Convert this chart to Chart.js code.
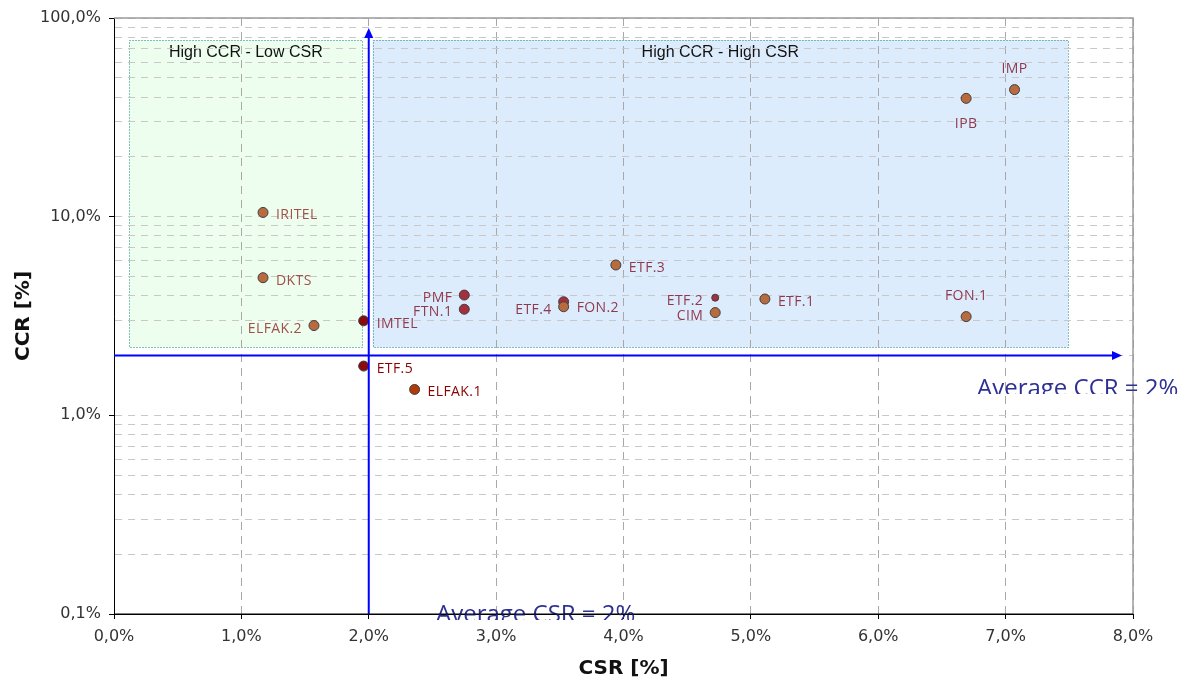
<!DOCTYPE html>
<html>
<head>
<meta charset="utf-8">
<script src="https://cdn.jsdelivr.net/npm/chart.js@4.4.0/dist/chart.umd.min.js"></script>
<style>
  html, body { margin: 0; padding: 0; background: #fff; }
  #wrap { width: 1181px; height: 681px; }
</style>
</head>
<body>
<div id="wrap"><canvas id="matrixChart" width="1181" height="681"></canvas></div>
<script>
// data (CSR and CCR in %)
const units = ['IRITEL', 'DKTS', 'ELFAK.2', 'IMTEL', 'ETF.5', 'ELFAK.1', 'PMF', 'FTN.1',
               'ETF.4', 'FON.2', 'ETF.3', 'ETF.2', 'CIM', 'ETF.1', 'FON.1', 'IPB', 'IMP'];
const csr = [1.17, 1.17, 1.57, 1.96, 1.96, 2.36, 2.75, 2.75,
             3.53, 3.53, 3.94, 4.72, 4.72, 5.11, 6.69, 6.69, 7.07];
const ccr = [10.5, 4.93, 2.83, 2.99, 1.77, 1.35, 4.03, 3.42,
             3.73, 3.52, 5.71, 3.91, 3.29, 3.85, 3.14, 39.4, 43.6];
const csrTicks = [0, 1, 2, 3, 4, 5, 6, 7, 8];
const ccrDecades = [0.1, 1, 10, 100];
const avgCsr = 2;
const avgCcr = 2;

// quadrant boxes in data units
const quadrants = [
    { title: 'High CCR - Low CSR', x0: 0.12, x1: 1.95, y0: 2.2, y1: 77.5, fill: '#edfdee' },
    { title: 'High CCR - High CSR', x0: 2.03, x1: 7.49, y0: 2.2, y1: 77.5, fill: '#ddecfd' }
];

// styling per unit
const labelSide = {
    'IRITEL': 'right', 'DKTS': 'right', 'ELFAK.2': 'left', 'IMTEL': 'right', 'ETF.5': 'right',
    'ELFAK.1': 'right', 'PMF': 'left', 'FTN.1': 'left', 'ETF.4': 'left', 'FON.2': 'right',
    'ETF.3': 'right', 'ETF.2': 'left', 'CIM': 'left', 'ETF.1': 'right', 'FON.1': 'above',
    'IPB': 'below', 'IMP': 'above'
};
const labelShift = { 'ETF.4': 5, 'FON.2': -2 };
const crimson = ['PMF', 'FTN.1', 'ETF.4', 'ETF.2'];
const darkRed = ['IMTEL', 'ETF.5'];
const brownLabels = ['IRITEL', 'DKTS', 'ELFAK.2'];
const redLabels = ['ETF.5', 'ELFAK.1'];

function pointColor(name) {
    if (darkRed.includes(name)) return '#8b0b0b';
    if (crimson.includes(name)) return '#a32f3f';
    if (name === 'ELFAK.1') return '#b03a08';
    return '#b86b3e';
}
function labelColor(name) {
    if (redLabels.includes(name)) return '#8b0000';
    if (brownLabels.includes(name)) return '#a0504a';
    return '#8f3a4c';
}
function pct(v) {
    return v.toFixed(1).replace('.', ',') + '%';
}

// log ticks 1..9 per decade
const ccrTicks = [];
ccrDecades.slice(0, -1).forEach(d => {
    for (let m = 1; m < 10; m++) ccrTicks.push(Number((d * m).toPrecision(3)));
});
ccrTicks.push(ccrDecades[ccrDecades.length - 1]);

const points = units.map((u, i) => ({ x: csr[i], y: ccr[i] }));

const quadrantPlugin = {
    id: 'quadrants',
    beforeDraw(chart) {
        const ctx = chart.ctx;
        const xs = chart.scales.x, ys = chart.scales.y;
        ctx.save();
        quadrants.forEach(q => {
            const l = xs.getPixelForValue(q.x0), r = xs.getPixelForValue(q.x1);
            const t = ys.getPixelForValue(q.y1), b = ys.getPixelForValue(q.y0);
            ctx.fillStyle = q.fill;
            ctx.fillRect(l, t, r - l, b - t);
            ctx.setLineDash([1, 2]);
            ctx.strokeStyle = '#12807f';
            ctx.lineWidth = 1;
            ctx.strokeRect(Math.round(l) + 0.5, Math.round(t) + 0.5, Math.round(r - l), Math.round(b - t));
            ctx.setLineDash([]);
            ctx.fillStyle = '#111';
            ctx.font = '16px "Liberation Sans", Arial, sans-serif';
            ctx.textAlign = 'center';
            ctx.textBaseline = 'alphabetic';
            ctx.fillText(q.title, (l + r) / 2, t + 17);
        });
        ctx.restore();
    },
    beforeDatasetsDraw(chart) {
        // gray frame on top and right
        const ctx = chart.ctx, a = chart.chartArea;
        ctx.save();
        ctx.strokeStyle = '#9a9a9a';
        ctx.lineWidth = 1.5;
        ctx.beginPath();
        ctx.moveTo(a.left, a.top);
        ctx.lineTo(a.right, a.top);
        ctx.lineTo(a.right, a.bottom);
        ctx.stroke();
        ctx.restore();
    },
    afterDatasetsDraw(chart) {
        const ctx = chart.ctx, a = chart.chartArea;
        const xs = chart.scales.x, ys = chart.scales.y;
        const ax = xs.getPixelForValue(avgCsr), ay = ys.getPixelForValue(avgCcr);
        ctx.save();
        ctx.strokeStyle = '#0000ff';
        ctx.fillStyle = '#0000ff';
        ctx.lineWidth = 2;
        // horizontal arrow
        const hx = 1122;
        ctx.beginPath();
        ctx.moveTo(a.left, ay);
        ctx.lineTo(hx - 8, ay);
        ctx.stroke();
        ctx.beginPath();
        ctx.moveTo(hx, ay);
        ctx.lineTo(hx - 10, ay - 4.5);
        ctx.lineTo(hx - 10, ay + 4.5);
        ctx.closePath();
        ctx.fill();
        // vertical arrow
        const vy = 28;
        ctx.beginPath();
        ctx.moveTo(ax, a.bottom);
        ctx.lineTo(ax, vy + 8);
        ctx.stroke();
        ctx.beginPath();
        ctx.moveTo(ax, vy);
        ctx.lineTo(ax - 4.5, vy + 10);
        ctx.lineTo(ax + 4.5, vy + 10);
        ctx.closePath();
        ctx.fill();

        // point labels
        ctx.font = '14px "Open Sans", sans-serif';
        ctx.letterSpacing = '0.4px';
        ctx.textBaseline = 'alphabetic';
        const meta = chart.getDatasetMeta(0);
        meta.data.forEach((el, i) => {
            const name = units[i];
            const side = labelSide[name];
            const dy = labelShift[name] || 0;
            let tx = el.x, ty = el.y + 2 + dy;
            if (side === 'right') { ctx.textAlign = 'left'; tx += 13; }
            else if (side === 'left') { ctx.textAlign = 'right'; tx -= 12; }
            else if (side === 'above') { ctx.textAlign = 'center'; ty = el.y - 22; }
            else { ctx.textAlign = 'center'; ty = el.y + 25; }
            ctx.fillStyle = labelColor(name);
            ctx.fillText(name, tx, ty + 5);
        });
        ctx.restore();
    },
    afterDraw(chart) {
        const ctx = chart.ctx, a = chart.chartArea;
        ctx.save();
        ctx.fillStyle = '#2e3192';
        ctx.font = '24px "Open Sans", sans-serif';
        ctx.textAlign = 'left';
        ctx.textBaseline = 'alphabetic';
        ctx.save();
        ctx.beginPath();
        ctx.rect(960, 362, 221, 32);
        ctx.clip();
        ctx.fillText('Average CCR = ' + avgCcr + '%', 977, 396);
        ctx.restore();
        ctx.save();
        ctx.beginPath();
        ctx.rect(420, 592, 240, 28);
        ctx.clip();
        ctx.fillText('Average CSR = ' + avgCsr + '%', 436, 622);
        ctx.restore();
        // x axis line goes over the text
        ctx.strokeStyle = '#000';
        ctx.lineWidth = 1;
        ctx.beginPath();
        ctx.moveTo(a.left, a.bottom);
        ctx.lineTo(a.right, a.bottom);
        ctx.stroke();
        ctx.restore();
    }
};

const ctx = document.getElementById('matrixChart').getContext('2d');
const matrixChart = new Chart(ctx, {
    type: 'scatter',
    data: {
        datasets: [{
            label: 'Units',
            data: points,
            pointRadius: units.map(u => u === 'ETF.2' ? 3.5 : 5),
            pointHoverRadius: units.map(u => u === 'ETF.2' ? 3.5 : 5),
            pointBackgroundColor: units.map(pointColor),
            pointBorderColor: '#404040',
            pointBorderWidth: 1
        }]
    },
    options: {
        responsive: false,
        animation: false,
        layout: { padding: { top: 18, right: 48, left: 0, bottom: 0 } },
        plugins: {
            legend: { display: false },
            tooltip: { enabled: false }
        },
        scales: {
            x: {
                type: 'linear',
                min: 0,
                max: 8,
                afterBuildTicks: scale => { scale.ticks = csrTicks.map(v => ({ value: v })); },
                afterFit: scale => { scale.height = 67; },
                ticks: {
                    callback: v => pct(v),
                    color: '#333',
                    padding: 8,
                    maxRotation: 0,
                    font: { family: '"DejaVu Sans", Verdana, sans-serif', size: 16 }
                },
                grid: {
                    color: '#a8a8a8',
                    lineWidth: 1,
                    tickLength: 5,
                    tickColor: '#000',
                    tickBorderDash: []
                },
                border: { display: true, color: '#000', width: 1, dash: [8, 6] },
                title: {
                    display: true,
                    text: 'CSR [%]',
                    color: '#111',
                    padding: { top: 0, bottom: 0 },
                    font: { family: '"DejaVu Sans", Verdana, sans-serif', size: 20, weight: 'bold' }
                }
            },
            y: {
                type: 'logarithmic',
                min: 0.1,
                max: 100,
                afterBuildTicks: scale => { scale.ticks = ccrTicks.map(v => ({ value: v })); },
                afterFit: scale => { scale.width = 114; },
                ticks: {
                    autoSkip: false,
                    callback: v => ccrDecades.includes(v) ? pct(v) : '',
                    color: '#333',
                    padding: 8,
                    font: { family: '"DejaVu Sans", Verdana, sans-serif', size: 16 }
                },
                grid: {
                    color: '#c8c8c8',
                    lineWidth: 1,
                    tickLength: 5,
                    tickColor: c => (c.tick && ccrDecades.includes(c.tick.value)) ? '#000' : 'rgba(0,0,0,0)',
                    tickBorderDash: []
                },
                border: { display: true, color: '#000', width: 1, dash: [7, 6] },
                title: {
                    display: true,
                    text: 'CCR [%]',
                    color: '#111',
                    padding: { top: 12, bottom: 0 },
                    font: { family: '"DejaVu Sans", Verdana, sans-serif', size: 20, weight: 'bold' }
                }
            }
        }
    },
    plugins: [quadrantPlugin]
});
</script>
</body>
</html>
